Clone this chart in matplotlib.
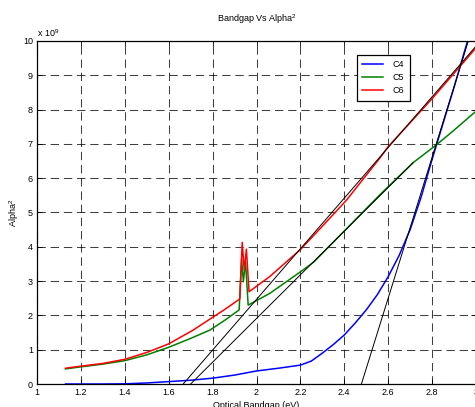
import matplotlib
matplotlib.use('Agg')
import matplotlib.pyplot as plt
import numpy as np

plt.rcParams['font.family'] = ['Liberation Sans', 'DejaVu Sans']
plt.rcParams['mathtext.default'] = 'regular'
plt.rcParams['lines.scale_dashes'] = False

# C4 (blue)
c4_x = [1.13, 1.2, 1.3, 1.4, 1.5, 1.6, 1.7, 1.8, 1.9, 2.0, 2.1, 2.2, 2.25, 2.3,
        2.35, 2.4, 2.45, 2.5, 2.55, 2.6, 2.65, 2.7, 2.75, 2.8, 2.85, 2.9, 2.95, 2.98]
c4_y = [0.0, 0.0, 0.0, 0.005, 0.03, 0.07, 0.11, 0.17, 0.26, 0.38, 0.46, 0.55, 0.67, 0.9,
        1.15, 1.43, 1.78, 2.16, 2.6, 3.13, 3.75, 4.5, 5.45, 6.55, 7.6, 8.65, 9.75, 10.4]

# C5 (green)
c5_x = [1.13, 1.2, 1.3, 1.4, 1.5, 1.6, 1.7, 1.787, 1.856, 1.921, 1.932, 1.94, 1.95,
        1.962, 2.06, 2.2, 2.26, 2.4, 2.561, 2.713, 2.819, 2.9, 2.963, 3.0]
c5_y = [0.44, 0.5, 0.58, 0.68, 0.85, 1.07, 1.33, 1.57, 1.86, 2.16, 3.66, 2.98, 3.56,
        2.3, 2.64, 3.27, 3.55, 4.46, 5.51, 6.45, 6.97, 7.4, 7.75, 7.95]

# C6 (red)
c6_x = [1.13, 1.2, 1.3, 1.4, 1.5, 1.6, 1.711, 1.78, 1.85, 1.924, 1.935, 1.944, 1.954,
        1.966, 2.06, 2.2, 2.3, 2.41, 2.561, 2.6, 2.8, 3.0]
c6_y = [0.46, 0.52, 0.6, 0.72, 0.92, 1.17, 1.57, 1.86, 2.15, 2.48, 4.13, 3.32, 3.93,
        2.69, 3.13, 3.92, 4.6, 5.36, 6.58, 6.92, 8.32, 9.8]

# tangent lines (x-intercept extrapolation)
tan_c4_x = [2.478, 2.965]
tan_c4_y = [0.0, 10.0]
tan_c5_x = [1.70, 2.713]
tan_c5_y = [0.0, 6.45]
tan_c6_x = [1.666, 3.0]
tan_c6_y = [0.0, 9.85]

fig = plt.figure(figsize=(4.75, 4.07), dpi=100)
ax = fig.add_axes([37/475, 1 - 384/407, 439/475, 343/407])

ax.plot(c4_x, c4_y, color='b', lw=1.1, label='C4')
ax.plot(c5_x, c5_y, color='g', lw=1.1, label='C5')
ax.plot(c6_x, c6_y, color='r', lw=1.1, label='C6')
for tx, ty in [(tan_c4_x, tan_c4_y), (tan_c5_x, tan_c5_y), (tan_c6_x, tan_c6_y)]:
    ax.plot(tx, ty, color='k', lw=0.7)

ax.set_xlim(1, 3)
ax.set_ylim(0, 10)
ax.set_xticks(np.arange(1, 3.01, 0.2))
ax.set_xticklabels(['1', '1.2', '1.4', '1.6', '1.8', '2', '2.2', '2.4', '2.6', '2.8', '3'])
ax.set_yticks(range(0, 11))
ax.tick_params(direction='in', top=True, right=True, length=3.5, width=0.6,
               labelsize=6.5, pad=3, colors='k')
ax.grid(True, color='k', lw=0.75, linestyle=(0, (6, 3.5)), alpha=0.75)
for s in ax.spines.values():
    s.set_linewidth(0.9)

ax.set_title('Bandgap Vs Alpha$^2$', fontsize=6.5, pad=14)
ax.set_xlabel('Optical Bandgap (eV)', fontsize=6.5, labelpad=3)
ax.set_ylabel('Alpha$^2$', fontsize=6.5, labelpad=1)
ax.text(0, 1.006, 'x 10$^9$', transform=ax.transAxes, fontsize=6.5, ha='left', va='bottom')

leg = ax.legend(loc='upper left', bbox_to_anchor=(0.728, 0.96), fontsize=6.5,
                handlelength=2.3, handletextpad=1.1, labelspacing=0.45,
                borderpad=0.6, borderaxespad=0, fancybox=False, framealpha=1)
leg.get_frame().set_edgecolor('k')
leg.get_frame().set_linewidth(0.9)

fig.savefig('out.png', dpi=100)
